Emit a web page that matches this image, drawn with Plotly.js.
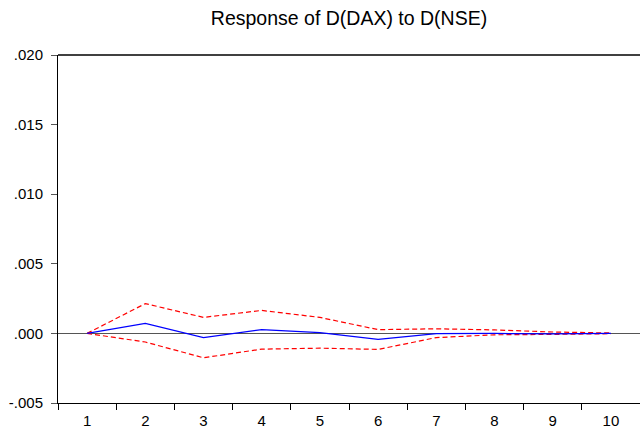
<!DOCTYPE html>
<html>
<head>
<meta charset="utf-8">
<script src="https://cdn.plot.ly/plotly-3.0.1.min.js"></script>
<style>
  html, body { margin: 0; padding: 0; background: #fff; }
  #chart { width: 640px; height: 432px; }
</style>
</head>
<body>
<div id="chart"></div>
<script>
// Impulse response periods
const periods = ["1", "2", "3", "4", "5", "6", "7", "8", "9", "10"];

// Response of D(DAX) to a shock in D(NSE)
const response = [0.0, 0.00072, -0.00030, 0.00027, 0.00005, -0.00043, -0.00002, 0.00000, -0.00004, 0.00000];

// +/- 2 S.E. bands
const upperBand = [0.0, 0.00214, 0.00115, 0.00165, 0.00115, 0.00027, 0.00033, 0.00025, 0.00010, 0.00003];
const lowerBand = [0.0, -0.00062, -0.00175, -0.00113, -0.00106, -0.00115, -0.00030, -0.00010, -0.00007, -0.00002];

// Y axis ticks
const yTickVals = [-0.005, 0.0, 0.005, 0.010, 0.015, 0.020];
const yTickText = ["-.005", ".000", ".005", ".010", ".015", ".020"];

const fontFamily = "Liberation Sans, Arial, sans-serif";

const traces = [
  {
    x: periods, y: upperBand, type: "scatter", mode: "lines",
    line: { color: "#ff0000", width: 1.2, dash: "5px,3px" },
    hoverinfo: "skip"
  },
  {
    x: periods, y: lowerBand, type: "scatter", mode: "lines",
    line: { color: "#ff0000", width: 1.2, dash: "5px,3px" },
    hoverinfo: "skip"
  },
  {
    x: periods, y: response, type: "scatter", mode: "lines",
    line: { color: "#0000ff", width: 1.2 },
    hoverinfo: "skip"
  }
];

const layout = {
  width: 640,
  height: 432,
  margin: { l: 58, r: 0, t: 55, b: 29 },
  paper_bgcolor: "#ffffff",
  plot_bgcolor: "#ffffff",
  showlegend: false,
  font: { family: fontFamily, size: 15, color: "#000" },
  title: {
    text: "Response of D(DAX) to D(NSE)",
    font: { family: fontFamily, size: 19.5, color: "#000" },
    xref: "paper", x: 0.5, xanchor: "center",
    yref: "container", y: 0.958, yanchor: "middle"
  },
  xaxis: {
    type: "category",
    range: [-0.5, 9.5],
    tickson: "boundaries",
    ticks: "outside",
    ticklen: 6,
    tickcolor: "#000",
    tickwidth: 1,
    ticklabelstandoff: 4,
    showgrid: false,
    zeroline: false,
    showline: true,
    linecolor: "#000",
    linewidth: 1,
    tickfont: { family: fontFamily, size: 15 },
    fixedrange: true
  },
  yaxis: {
    range: [-0.005, 0.020],
    tickvals: yTickVals,
    ticktext: yTickText,
    ticks: "outside",
    ticklen: 6,
    tickcolor: "#555",
    tickwidth: 1,
    ticklabelstandoff: 5,
    showgrid: false,
    zeroline: true,
    zerolinecolor: "#555",
    zerolinewidth: 1.5,
    showline: true,
    linecolor: "#000",
    linewidth: 1,
    tickfont: { family: fontFamily, size: 15 },
    fixedrange: true
  },
  shapes: [
    {
      type: "line", xref: "paper", yref: "paper",
      x0: 0, x1: 1, y0: 1, y1: 1,
      line: { color: "#404040", width: 2 }
    }
  ]
};

Plotly.newPlot("chart", traces, layout, { displayModeBar: false, staticPlot: true });
</script>
</body>
</html>
